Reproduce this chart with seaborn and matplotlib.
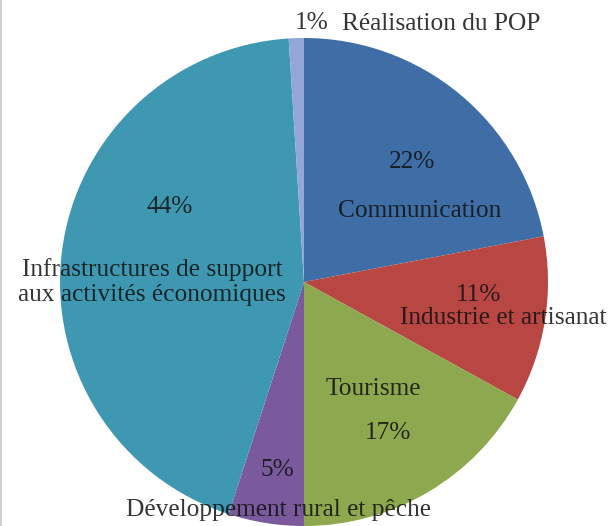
import numpy as np
import matplotlib
matplotlib.use('Agg')
import matplotlib.pyplot as plt
import seaborn as sns

# data, clockwise from 12 o'clock
sectors = ['Communication', 'Industrie et artisanat', 'Tourisme',
           'Développement rural et pêche',
           'Infrastructures de support\naux activités économiques',
           'Réalisation du POP']
shares = [22, 11, 17, 5, 44, 1]
colors = ['#3F6EA6', '#B84743', '#8DA84E', '#7A5A9C', '#3E98B2', '#94A6D6']

sns.set_theme(style='white')
plt.rcParams['font.family'] = ['Liberation Serif', 'DejaVu Serif']

fig = plt.figure(figsize=(6.12, 5.26), dpi=100)
ax = fig.add_axes([0, 0, 1, 1])

# pie drawn in pixel-like units (y flipped -> counterclock flips too)
wedges, _ = ax.pie(shares, colors=sns.color_palette(colors),
                   startangle=-90, counterclock=True,
                   center=(304, 282), radius=244, frame=True,
                   wedgeprops=dict(linewidth=0))
ax.set_xlim(0, 612)
ax.set_ylim(526, 0)
ax.set_aspect('equal')
ax.axis('off')

# label positions (pixels, from top-left), placed like the original
pct_pos = [(412, 162), (478, 295), (388, 433), (277, 470), (170, 207), (312, 23)]
name_pos = [(420, 211), (503, 318), (373, 389), (279, 510), (152, 282), (441, 24)]

txt = dict(fontsize=18.3, color='#111111', alpha=0.85, ha='center', va='center')
for s, v, pp, nps in zip(sectors, shares, pct_pos, name_pos):
    ax.text(pp[0], pp[1], f'{v}%', **txt)
    ax.text(nps[0], nps[1], s, linespacing=1.15, **txt)

# thin grey border on the left edge
fig.add_artist(plt.Line2D([0.002, 0.002], [0, 1], color='#c8c8c8', lw=1.2,
                          transform=fig.transFigure))

fig.savefig('out.png', dpi=100)
